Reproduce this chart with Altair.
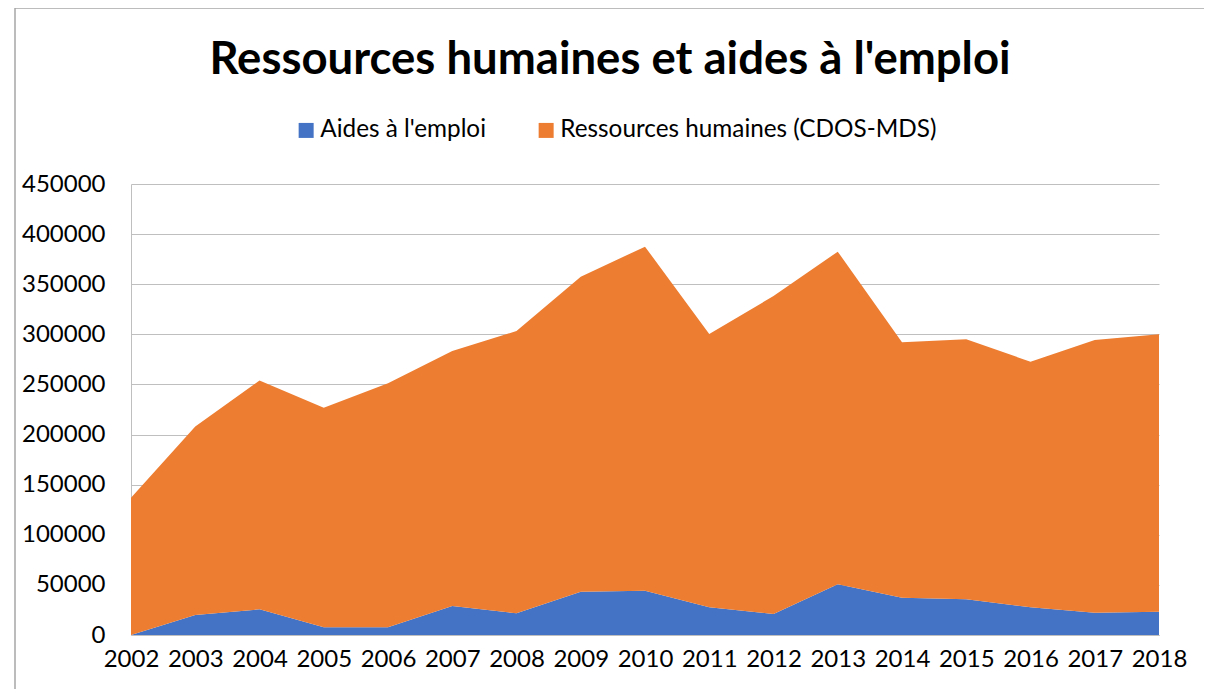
import altair as alt
import pandas as pd

years = list(range(2002, 2019))
aides = [0, 20000, 25600, 7700, 7700, 28900, 21600, 43200, 44200, 27600, 21000, 50600, 37200, 35600, 27600, 22300, 23300]
rh = [137000, 188000, 228400, 219100, 243400, 254500, 281700, 314300, 343300, 272700, 317200, 331900, 254800, 259400, 245100, 272000, 276700]
series = ["Aides à l'emploi", "Ressources humaines (CDOS-MDS)"]
colors = ["#4472C4", "#ED7D31"]
y_ticks = [0, 50000, 100000, 150000, 200000, 250000, 300000, 350000, 400000, 450000]

rows = []
for i, y in enumerate(years):
    rows.append({"year": y, "serie": series[0], "value": aides[i], "ord": 0})
    rows.append({"year": y, "serie": series[1], "value": rh[i], "ord": 1})
df = pd.DataFrame(rows)

FONT = "Lato"

area = alt.Chart(df).mark_area(opacity=1).encode(
    x=alt.X("year:Q", scale=alt.Scale(domain=[2002, 2018], nice=False, zero=False),
            axis=alt.Axis(values=years, format="d", title=None, ticks=False, grid=False,
                          domain=True, domainColor="#bfbfbf", labelPadding=12,
                          labelFontSize=24, labelColor="#000000", labelFont=FONT,
                          labelFlush=False, labelOverlap=False)),
    y=alt.Y("value:Q", stack="zero", scale=alt.Scale(domain=[0, 450000], nice=False),
            axis=alt.Axis(values=y_ticks, format="d", title=None, ticks=False,
                          grid=True, gridColor="#bfbfbf", gridWidth=1.2,
                          domain=True, domainColor="#bfbfbf", labelPadding=26,
                          labelFontSize=24, labelColor="#000000", labelFont=FONT)),
    color=alt.Color("serie:N", scale=alt.Scale(domain=series, range=colors),
                    legend=alt.Legend(title=None, orient="none", direction="horizontal",
                                      legendX=163, legendY=-66, symbolType="square",
                                      symbolSize=225, symbolStrokeWidth=0,
                                      labelFontSize=24.3, labelFont=FONT, labelColor="#000000",
                                      labelLimit=0, columnPadding=48, labelOffset=2)),
    order=alt.Order("ord:Q", sort="ascending"),
)

border = alt.Chart(pd.DataFrame({"b": [0]})).mark_rect(
    fill=None, stroke="#a6a6a6", strokeWidth=1.5
).encode(
    x=alt.value(-116), x2=alt.value(1300),
    y=alt.value(-176), y2=alt.value(700),
)

chart = alt.layer(border, area).properties(
    width=1028, height=451,
    padding={"left": 123, "top": 176, "right": 45, "bottom": 54},
    autosize=alt.AutoSizeParams(type="none"),
    title=alt.Title("Ressources humaines et aides à l'emploi", fontSize=45.5,
                    fontWeight="bold", font=FONT, color="#000000", anchor="middle",
                    frame="group", offset=0, dy=76, dx=-35),
).configure_view(stroke=None)

chart.save("out.html", embed_options={"renderer": "svg", "actions": False})
